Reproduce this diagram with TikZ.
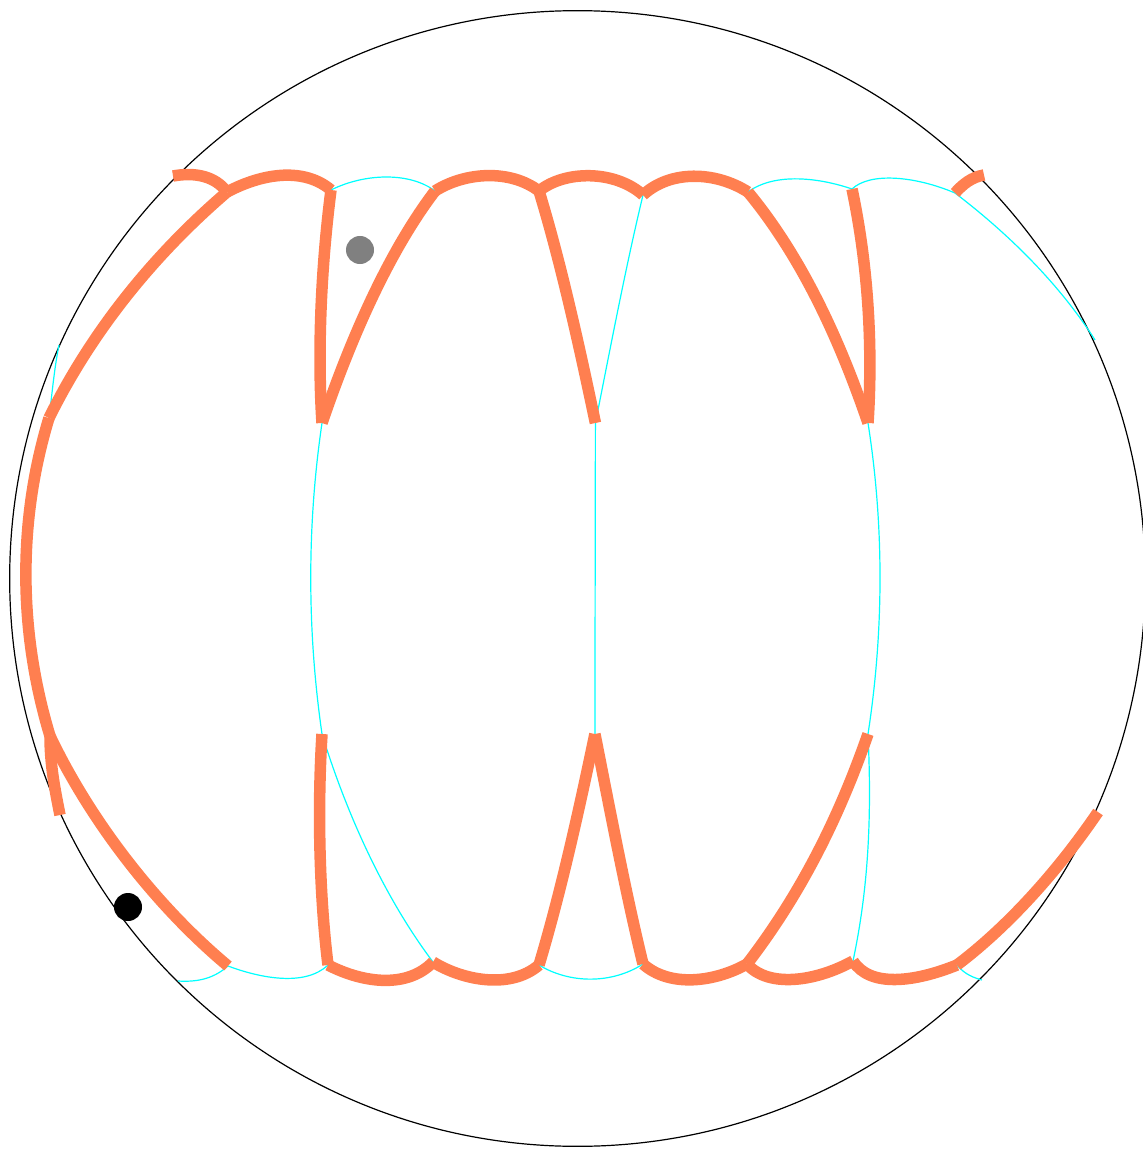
\documentclass[tikz,border=0pt]{standalone}
\usetikzlibrary{arrows.meta,calc,positioning}
\definecolor{coral}{HTML}{FF7F50}
\definecolor{aqua}{HTML}{00FFFF}
\tikzset{thick line/.style={draw=coral,line width=.115cm},
thin line/.style={draw=aqua,line width=.012cm},
dot/.style={circle,fill,inner sep=0pt,minimum size=.28cm}}
\begin{document}
\begin{tikzpicture}[x=.01cm,y=-.01cm]
\useasboundingbox (0,0) rectangle (1142,1149);
\coordinate (C) at (577.5,578.5);
\coordinate (T0) at (173,176);
\coordinate (T1) at (227,192);
\coordinate (T2) at (331,190);
\coordinate (T3) at (435,191);
\coordinate (T4) at (539,191);
\coordinate (T5) at (643,195);
\coordinate (T6) at (748,192);
\coordinate (T7) at (852,189);
\coordinate (T8) at (955,193);
\coordinate (T9) at (984,175);
\coordinate (U1) at (322,423);
\coordinate (U2) at (595.4,423);
\coordinate (U3) at (868,423);
\coordinate (L1) at (322,734);
\coordinate (L2) at (594.9,734);
\coordinate (L3) at (868,734);
\coordinate (B0) at (178,981);
\coordinate (B1) at (228,966);
\coordinate (B2) at (328,965);
\coordinate (B3) at (433,962);
\coordinate (B4) at (539,965);
\coordinate (B5) at (643,964);
\coordinate (B6) at (747,964);
\coordinate (B7) at (853,961);
\coordinate (B8) at (957,965);
\coordinate (B9) at (982,980);
\coordinate (W0) at (59,345);
\coordinate (W1) at (49,418);
\coordinate (W2) at (50,736);
\coordinate (W3) at (60,815);
\coordinate (R1) at (1095,340);
\coordinate (R2) at (1098,812);
\draw[line width=.012cm] (C) circle (5.675cm);
% thin arcs
\draw[thin line] (T2) .. controls (365,173) and (410,172) .. (T3);
\draw[thin line] (T6) .. controls (775,172) and (820,178) .. (T7);
\draw[thin line] (T7) .. controls (870,172) and (915,176) .. (T8);
\draw[thin line] (T8) .. controls (1010,235) and (1060,285) .. (R1);
\draw[thin line] (T5) .. controls (625,270) and (610,350) .. (U2);
\draw[thin line] (W1) .. controls (52,395) and (54,370) .. (W0);
\draw[thin line] (U1) .. controls (307,525) and (307,630) .. (L1);
\draw[thin line] (U2)--(L2);
\draw[thin line] (U3) .. controls (884,525) and (884,630) .. (L3);
\draw[thin line] (L1) .. controls (350,825) and (390,905) .. (B3);
\draw[thin line] (L3) .. controls (872,820) and (868,890) .. (B7);
\draw[thin line] (B0) .. controls (195,982) and (212,980) .. (B1);
\draw[thin line] (B1) .. controls (260,978) and (305,987) .. (B2);
\draw[thin line] (B4) .. controls (570,984) and (612,984) .. (B5);
\draw[thin line] (B8) .. controls (965,975) and (975,978) .. (B9);
% thick arcs
\draw[thick line] (T0) .. controls (195,172) and (215,176) .. (T1);
\draw[thick line] (T1) .. controls (265,172) and (305,168) .. (T2);
\draw[thick line] (T3) .. controls (465,172) and (510,169) .. (T4);
\draw[thick line] (T4) .. controls (565,170) and (615,170) .. (T5);
\draw[thick line] (T5) .. controls (670,170) and (715,171) .. (T6);
\draw[thick line] (T8) .. controls (963,184) and (972,177) .. (T9);
\draw[thick line] (T2) .. controls (322,260) and (317,345) .. (U1);
\draw[thick line] (T3) .. controls (390,250) and (352,335) .. (U1);
\draw[thick line] (T4) .. controls (560,260) and (578,340) .. (U2);
\draw[thick line] (T6) .. controls (800,255) and (838,335) .. (U3);
\draw[thick line] (T7) .. controls (868,265) and (873,345) .. (U3);
\draw[thick line] (T1) .. controls (150,258) and (90,335) .. (W1);
\draw[thick line] (W1) .. controls (18,520) and (18,630) .. (W2);
\draw[thick line] (W2) .. controls (50,765) and (55,790) .. (W3);
\draw[thick line] (W2) .. controls (90,820) and (155,905) .. (B1);
\draw[thick line] (L1) .. controls (317,815) and (320,900) .. (B2);
\draw[thick line] (L2) .. controls (578,815) and (560,895) .. (B4);
\draw[thick line] (L2) .. controls (610,810) and (625,890) .. (B5);
\draw[thick line] (L3) .. controls (838,820) and (800,895) .. (B6);
\draw[thick line] (B2) .. controls (365,984) and (408,988) .. (B3);
\draw[thick line] (B3) .. controls (462,980) and (510,990) .. (B4);
\draw[thick line] (B5) .. controls (670,988) and (715,982) .. (B6);
\draw[thick line] (B6) .. controls (768,988) and (815,982) .. (B7);
\draw[thick line] (B7) .. controls (870,988) and (915,982) .. (B8);
\draw[thick line] (B8) .. controls (1010,925) and (1060,868) .. (R2);
\node[dot,fill=gray] (D1) at (360,250) {};
\node[dot,fill=black] (D2) at (128,907) {};
\end{tikzpicture}
\end{document}
